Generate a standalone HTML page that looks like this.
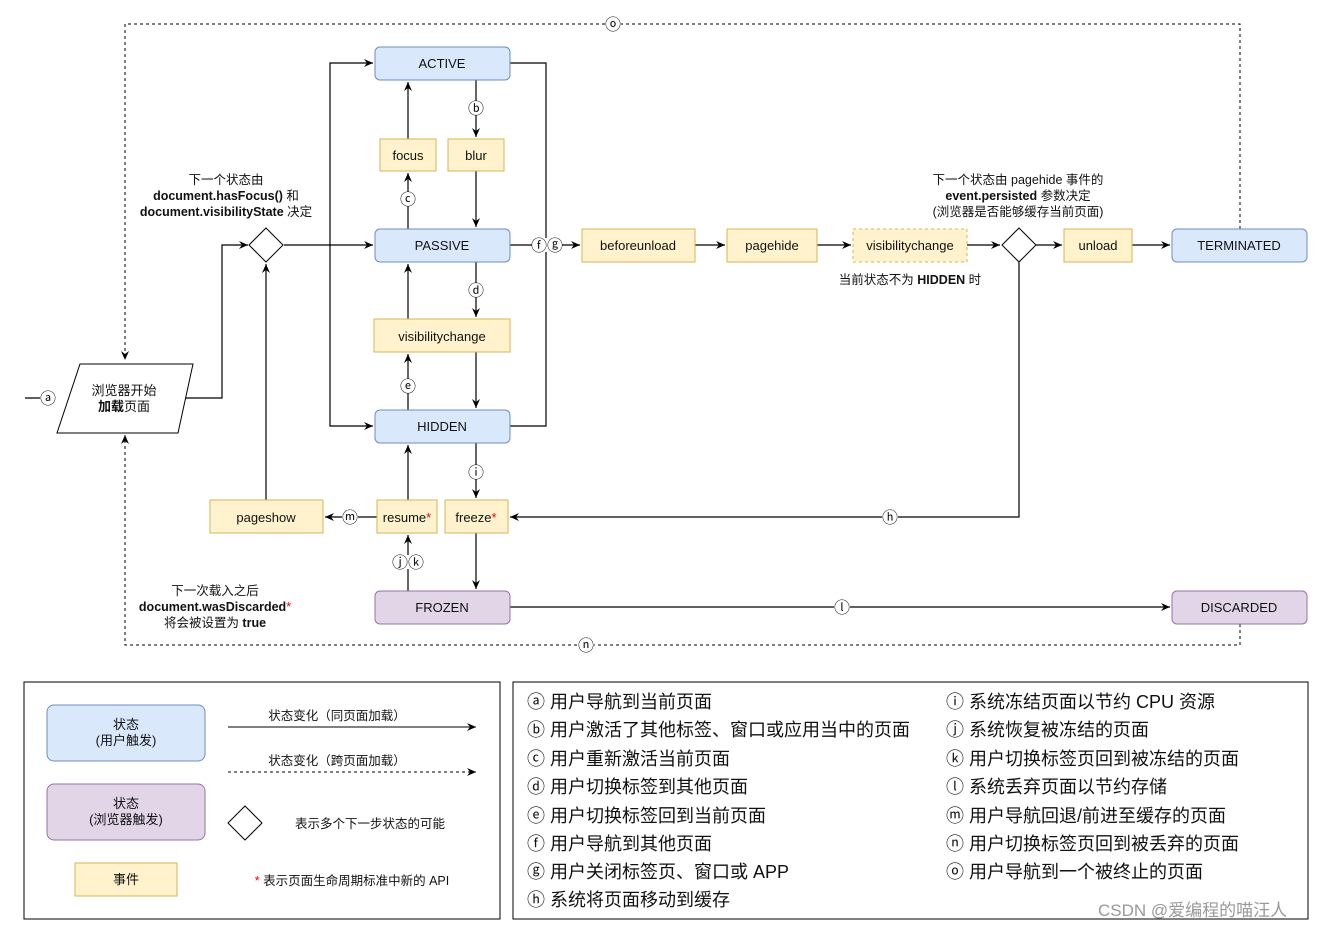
<!DOCTYPE html>
<html><head><meta charset="utf-8"><style>
body{margin:0;background:#fff}
svg text{font-family:"Liberation Sans","Noto Sans CJK SC",sans-serif;fill:#111}
</style></head><body>
<svg width="1324" height="930" xmlns="http://www.w3.org/2000/svg">
<defs>
<marker id="a" markerWidth="10" markerHeight="10" refX="9" refY="5" orient="auto" markerUnits="userSpaceOnUse"><path d="M0,1 L9,5 L0,9 L3,5 z" fill="#000"/></marker>
</defs>
<g font-size="13" text-anchor="middle">
<g fill="none" stroke="#000" stroke-dasharray="3,3">
<path d="M1240,229 V24 H125 V360" marker-end="url(#a)"/>
<path d="M1240,624 V645 H125 V435" marker-end="url(#a)"/>
</g>
<g fill="none" stroke="#000" stroke-width="1.2">
<path d="M25,398 H55" marker-end="url(#a)"/>
<path d="M186,398 H222 V245 H248" marker-end="url(#a)"/>
<path d="M284,245 H373" marker-end="url(#a)"/>
<path d="M330,245 V63 H373" marker-end="url(#a)"/>
<path d="M330,245 V426 H373" marker-end="url(#a)"/>
<path d="M510,63 H546 V426 H510"/>
<path d="M510,245 H580" marker-end="url(#a)"/>
<path d="M476,80 V137" marker-end="url(#a)"/>
<path d="M476,171 V227" marker-end="url(#a)"/>
<path d="M408,229 V173" marker-end="url(#a)"/>
<path d="M408,139 V82" marker-end="url(#a)"/>
<path d="M476,262 V317" marker-end="url(#a)"/>
<path d="M476,352 V408" marker-end="url(#a)"/>
<path d="M408,410 V354" marker-end="url(#a)"/>
<path d="M408,319 V264" marker-end="url(#a)"/>
<path d="M476,443 V498" marker-end="url(#a)"/>
<path d="M408,500 V445" marker-end="url(#a)"/>
<path d="M408,591 V535" marker-end="url(#a)"/>
<path d="M476,533 V589" marker-end="url(#a)"/>
<path d="M377,517 H325" marker-end="url(#a)"/>
<path d="M266,500 V264" marker-end="url(#a)"/>
<path d="M695,245 H725" marker-end="url(#a)"/>
<path d="M817,245 H851" marker-end="url(#a)"/>
<path d="M967,245 H1000" marker-end="url(#a)"/>
<path d="M1036,245 H1062" marker-end="url(#a)"/>
<path d="M1132,245 H1170" marker-end="url(#a)"/>
<path d="M1019,262 V517 H510" marker-end="url(#a)"/>
<path d="M510,607 H1170" marker-end="url(#a)"/>
</g>
<g stroke="#6c8ebf" fill="#dae8fc">
<rect x="375" y="47" width="135" height="33" rx="5"/>
<rect x="375" y="229" width="135" height="33" rx="5"/>
<rect x="375" y="410" width="135" height="33" rx="5"/>
<rect x="1172" y="229" width="135" height="33" rx="5"/>
</g>
<g stroke="#9673a6" fill="#e1d5e7">
<rect x="375" y="591" width="135" height="33" rx="5"/>
<rect x="1172" y="591" width="135" height="33" rx="5"/>
</g>
<g stroke="#d6b656" fill="#fff2cc">
<rect x="380" y="139" width="56" height="32"/>
<rect x="448" y="139" width="56" height="32"/>
<rect x="374" y="319" width="136" height="33"/>
<rect x="377" y="500" width="60" height="33"/>
<rect x="445" y="500" width="63" height="33"/>
<rect x="210" y="500" width="113" height="33"/>
<rect x="582" y="229" width="113" height="33"/>
<rect x="727" y="229" width="90" height="33"/>
<rect x="853" y="229" width="114" height="33" stroke-dasharray="3,3"/>
<rect x="1064" y="229" width="68" height="33"/>
</g>
<g fill="#fff" stroke="#000">
<path d="M266,228 L283,245 L266,262 L249,245 z"/>
<path d="M1019,228 L1036,245 L1019,262 L1002,245 z"/>
<path d="M80,364 L193,364 L178,433 L57,433 z"/>
</g>
<text x="442" y="68">ACTIVE</text><text x="442" y="250">PASSIVE</text><text x="442" y="431">HIDDEN</text><text x="442" y="612">FROZEN</text>
<text x="1239" y="250">TERMINATED</text><text x="1239" y="612">DISCARDED</text>
<text x="408" y="160">focus</text><text x="476" y="160">blur</text><text x="442" y="341">visibilitychange</text>
<text x="407" y="522">resume<tspan fill="#e00">*</tspan></text><text x="476" y="522">freeze<tspan fill="#e00">*</tspan></text>
<text x="266" y="522">pageshow</text><text x="638" y="250">beforeunload</text><text x="772" y="250">pagehide</text><text x="910" y="250">visibilitychange</text><text x="1098" y="250">unload</text>
<text x="124" y="395">浏览器开始</text><text x="124" y="411"><tspan font-weight="bold">加载</tspan>页面</text>
<g font-size="12.5">
<text x="226" y="184">下一个状态由</text>
<text x="226" y="200"><tspan font-weight="bold">document.hasFocus()</tspan> 和</text>
<text x="226" y="216"><tspan font-weight="bold">document.visibilityState</tspan> 决定</text>
<text x="1018" y="184">下一个状态由 pagehide 事件的</text>
<text x="1018" y="200"><tspan font-weight="bold">event.persisted</tspan> 参数决定</text>
<text x="1018" y="216">(浏览器是否能够缓存当前页面)</text>
<text x="910" y="284">当前状态不为 <tspan font-weight="bold">HIDDEN</tspan> 时</text>
<text x="215" y="595">下一次载入之后</text>
<text x="215" y="611"><tspan font-weight="bold">document.wasDiscarded</tspan><tspan fill="#e00">*</tspan></text>
<text x="215" y="627">将会被设置为 <tspan font-weight="bold">true</tspan></text>
</g>
<g font-size="16">
<g fill="#fff"><rect x="40" y="391" width="16" height="14"/><rect x="468" y="101" width="16" height="14"/><rect x="400" y="192" width="16" height="14"/><rect x="468" y="283" width="16" height="14"/><rect x="400" y="379" width="16" height="14"/><rect x="468" y="465" width="16" height="14"/><rect x="393" y="555" width="30" height="14"/><rect x="342" y="510" width="16" height="14"/><rect x="532" y="238" width="30" height="14"/><rect x="882" y="510" width="16" height="14"/><rect x="834" y="600" width="16" height="14"/><rect x="605" y="17" width="16" height="14"/><rect x="578" y="638" width="16" height="14"/></g>
<text x="48" y="404">ⓐ</text><text x="476" y="114">ⓑ</text><text x="408" y="205">ⓒ</text><text x="476" y="296">ⓓ</text><text x="408" y="392">ⓔ</text><text x="476" y="478">ⓘ</text><text x="408" y="568">ⓙⓚ</text><text x="350" y="523">ⓜ</text><text x="547" y="251">ⓕⓖ</text><text x="890" y="523">ⓗ</text><text x="842" y="613">ⓛ</text><text x="613" y="30">ⓞ</text><text x="586" y="651">ⓝ</text>
</g>
<rect x="24" y="682" width="476" height="237" fill="none" stroke="#000"/>
<rect x="513" y="682" width="795" height="237" fill="none" stroke="#000"/>
<rect x="47" y="705" width="158" height="56" rx="7" fill="#dae8fc" stroke="#6c8ebf"/>
<rect x="47" y="784" width="158" height="56" rx="7" fill="#e1d5e7" stroke="#9673a6"/>
<rect x="75" y="863" width="102" height="33" fill="#fff2cc" stroke="#d6b656"/>
<text x="126" y="729">状态</text><text x="126" y="745">(用户触发)</text>
<text x="126" y="808">状态</text><text x="126" y="824">(浏览器触发)</text>
<text x="126" y="884">事件</text>
<path d="M245,806 L262,823 L245,840 L228,823 z" fill="#fff" stroke="#000"/>
<g font-size="12.5">
<text x="337" y="720">状态变化（同页面加载）</text><text x="337" y="765">状态变化（跨页面加载）</text>
<text x="370" y="828">表示多个下一步状态的可能</text>
<text x="352" y="885"><tspan fill="#e00">*</tspan> 表示页面生命周期标准中新的 API</text>
</g>
<path d="M228,727 H476" stroke="#000" marker-end="url(#a)"/>
<path d="M228,772 H476" stroke="#000" stroke-dasharray="3,3" marker-end="url(#a)"/>
<g font-size="18" text-anchor="start">
<text x="527" y="708">ⓐ 用户导航到当前页面</text>
<text x="527" y="736">ⓑ 用户激活了其他标签、窗口或应用当中的页面</text>
<text x="527" y="765">ⓒ 用户重新激活当前页面</text>
<text x="527" y="793">ⓓ 用户切换标签到其他页面</text>
<text x="527" y="822">ⓔ 用户切换标签回到当前页面</text>
<text x="527" y="850">ⓕ 用户导航到其他页面</text>
<text x="527" y="878">ⓖ 用户关闭标签页、窗口或 APP</text>
<text x="527" y="906">ⓗ 系统将页面移动到缓存</text>
<text x="946" y="708">ⓘ 系统冻结页面以节约 CPU 资源</text>
<text x="946" y="736">ⓙ 系统恢复被冻结的页面</text>
<text x="946" y="765">ⓚ 用户切换标签页回到被冻结的页面</text>
<text x="946" y="793">ⓛ 系统丢弃页面以节约存储</text>
<text x="946" y="822">ⓜ 用户导航回退/前进至缓存的页面</text>
<text x="946" y="850">ⓝ 用户切换标签页回到被丢弃的页面</text>
<text x="946" y="878">ⓞ 用户导航到一个被终止的页面</text>
<text x="1098" y="916" font-size="17" style="fill:#999">CSDN @爱编程的喵汪人</text>
</g>
</g>
</svg>
</body></html>
